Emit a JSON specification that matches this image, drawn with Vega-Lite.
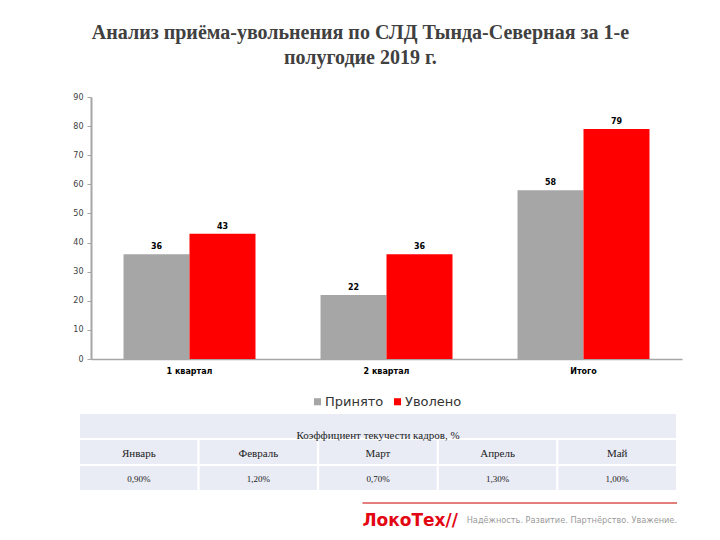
{
  "$schema": "https://vega.github.io/schema/vega-lite/v6.json",
  "background": "white",
  "padding": {"left": 72, "top": 23, "right": 10, "bottom": 2},
  "title": {
    "text": ["Анализ приёма-увольнения по СЛД Тында-Северная за 1-е", "полугодие 2019 г."],
    "font": "Liberation Serif", "fontSize": 20, "fontWeight": "bold", "color": "#404040",
    "anchor": "middle", "lineHeight": 25, "offset": 25, "dx": -17
  },
  "datasets": {
    "bars": [
      {"quarter": "1 квартал", "kind": "Принято", "value": 36},
      {"quarter": "1 квартал", "kind": "Уволено", "value": 43},
      {"quarter": "2 квартал", "kind": "Принято", "value": 22},
      {"quarter": "2 квартал", "kind": "Уволено", "value": 36},
      {"quarter": "Итого", "kind": "Принято", "value": 58},
      {"quarter": "Итого", "kind": "Уволено", "value": 79}
    ],
    "table": [
      {"row": "title", "month": "", "text": "Коэффициент текучести кадров, %"},
      {"row": "head", "month": "Январь", "text": "Январь"},
      {"row": "head", "month": "Февраль", "text": "Февраль"},
      {"row": "head", "month": "Март", "text": "Март"},
      {"row": "head", "month": "Апрель", "text": "Апрель"},
      {"row": "head", "month": "Май", "text": "Май"},
      {"row": "val", "month": "Январь", "text": "0,90%"},
      {"row": "val", "month": "Февраль", "text": "1,20%"},
      {"row": "val", "month": "Март", "text": "0,70%"},
      {"row": "val", "month": "Апрель", "text": "1,30%"},
      {"row": "val", "month": "Май", "text": "1,00%"}
    ],
    "footer": [
      {"logo": "ЛокоТех//", "slogan": "Надёжность. Развитие. Партнёрство. Уважение."}
    ]
  },
  "spacing": 37,
  "vconcat": [
    {
      "width": 603,
      "height": 262,
      "data": {"name": "bars"},
      "encoding": {
        "x": {
          "field": "quarter", "type": "nominal", "sort": ["1 квартал", "2 квартал", "Итого"],
          "scale": {"paddingInner": 0.33, "paddingOuter": 0.165, "range": [12, 603]},
          "axis": {"title": null, "labelAngle": 0, "labelFont": "DejaVu Sans", "labelFontSize": 8,
                   "labelFontWeight": "bold", "labelColor": "#000000", "domainColor": "#a6a6a6",
                   "domainWidth": 1.5, "ticks": false, "labelPadding": 8}
        },
        "xOffset": {"field": "kind", "type": "nominal", "sort": ["Принято", "Уволено"]},
        "y": {
          "field": "value", "type": "quantitative", "scale": {"domain": [0, 90]},
          "axis": {"title": null, "values": [0, 10, 20, 30, 40, 50, 60, 70, 80, 90], "grid": false,
                   "labelFont": "DejaVu Sans", "labelFontSize": 8, "labelColor": "#404040",
                   "domainColor": "#a6a6a6", "domainWidth": 2, "tickColor": "#a6a6a6", "tickSize": 4,
                   "labelPadding": 4, "offset": -12, "minExtent": 0}
        }
      },
      "layer": [
        {
          "mark": {"type": "bar"},
          "encoding": {
            "color": {
              "field": "kind", "type": "nominal",
              "scale": {"domain": ["Принято", "Уволено"], "range": ["#a6a6a6", "#ff0000"]},
              "legend": {"title": null, "orient": "none", "legendX": 232, "legendY": 298,
                         "direction": "horizontal", "symbolType": "square", "symbolSize": 50,
                         "symbolStrokeWidth": 0, "labelFont": "DejaVu Sans", "labelFontSize": 13,
                         "labelColor": "#333333", "columnPadding": 7, "labelOffset": 1}
            }
          }
        },
        {
          "mark": {"type": "text", "dy": -7, "font": "DejaVu Sans", "fontSize": 8, "fontWeight": "bold", "color": "#000000"},
          "encoding": {"text": {"field": "value", "type": "quantitative"}}
        }
      ]
    },
    {
      "spacing": 10,
      "vconcat": [
        {
          "width": 598,
          "height": 78,
          "data": {"name": "table"},
          "encoding": {
            "y": {"field": "row", "type": "nominal", "sort": ["title", "head", "val"],
                  "scale": {"paddingInner": 0, "paddingOuter": 0}, "axis": null}
          },
          "layer": [
            {
              "transform": [{"filter": "datum.row == 'title'"}],
              "mark": {"type": "rect", "fill": "#e9ebf5", "stroke": "white", "strokeWidth": 2}
            },
            {
              "transform": [{"filter": "datum.row != 'title'"}],
              "mark": {"type": "rect", "fill": "#e9ebf5", "stroke": "white", "strokeWidth": 2},
              "encoding": {
                "x": {"field": "month", "type": "nominal", "sort": ["Январь", "Февраль", "Март", "Апрель", "Май"],
                      "scale": {"paddingInner": 0, "paddingOuter": 0}, "axis": null}
              }
            },
            {
              "transform": [{"filter": "datum.row == 'title'"}],
              "mark": {"type": "text", "font": "Liberation Serif", "fontSize": 11, "color": "#222222", "baseline": "middle", "dy": 10},
              "encoding": {"text": {"field": "text"}}
            },
            {
              "transform": [{"filter": "datum.row == 'head'"}],
              "mark": {"type": "text", "font": "Liberation Serif", "fontSize": 11, "color": "#222222", "dy": 2},
              "encoding": {
                "x": {"field": "month", "type": "nominal", "sort": ["Январь", "Февраль", "Март", "Апрель", "Май"]},
                "text": {"field": "text"}
              }
            },
            {
              "transform": [{"filter": "datum.row == 'val'"}],
              "mark": {"type": "text", "font": "Liberation Serif", "fontSize": 9, "color": "#222222", "dy": 1},
              "encoding": {
                "x": {"field": "month", "type": "nominal", "sort": ["Январь", "Февраль", "Март", "Апрель", "Май"]},
                "text": {"field": "text"}
              }
            }
          ]
        },
        {
          "width": 598,
          "height": 26,
          "data": {"name": "footer"},
          "encoding": {},
          "layer": [
            {
              "mark": {"type": "rule", "color": "#d9534f", "strokeWidth": 1.5},
              "encoding": {
                "x": {"datum": 0.474, "type": "quantitative", "scale": {"domain": [0, 1]}, "axis": null},
                "x2": {"datum": 1},
                "y": {"datum": 1, "type": "quantitative", "scale": {"domain": [0, 1]}, "axis": null}
              }
            },
            {
              "mark": {"type": "text", "align": "left", "font": "DejaVu Sans", "fontSize": 17, "fontWeight": "bold", "color": "#e30613"},
              "encoding": {
                "x": {"datum": 0.474, "type": "quantitative"},
                "y": {"datum": 0.3, "type": "quantitative"},
                "text": {"field": "logo"}
              }
            },
            {
              "mark": {"type": "text", "align": "right", "font": "DejaVu Sans", "fontSize": 8.2, "color": "#9a9a9a"},
              "encoding": {
                "x": {"datum": 1, "type": "quantitative"},
                "y": {"datum": 0.3, "type": "quantitative"},
                "text": {"field": "slogan"}
              }
            }
          ]
        }
      ]
    }
  ],
  "config": {"view": {"stroke": null}}
}
